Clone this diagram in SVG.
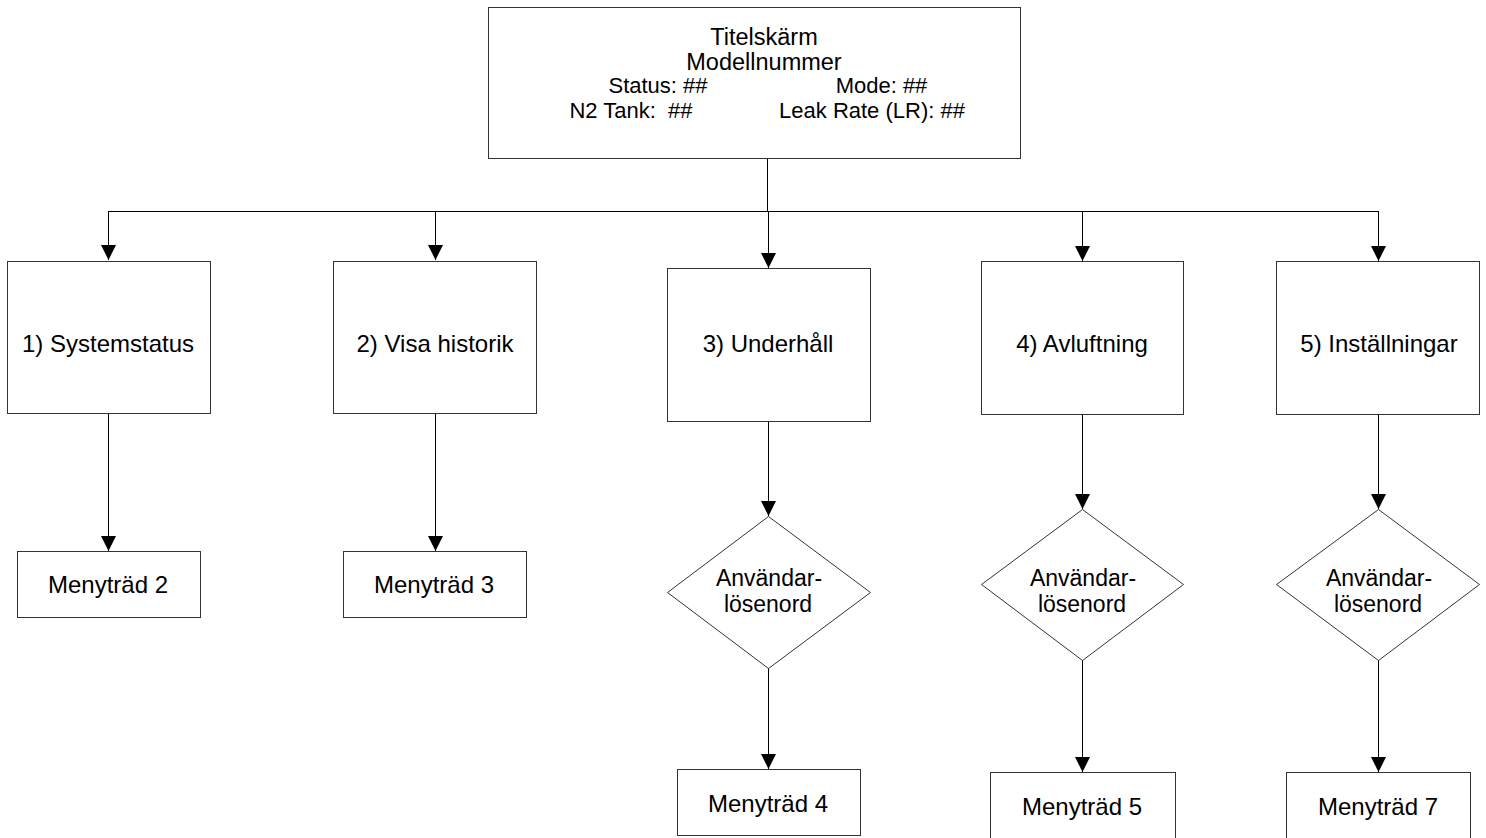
<svg xmlns="http://www.w3.org/2000/svg" width="1486" height="838" viewBox="0 0 1486 838">
<defs>
<style>
.box{fill:#fff;stroke:#333;stroke-width:1}
.t{font-family:"Liberation Sans",Arial,sans-serif;font-size:24px;fill:#000;text-anchor:middle}
.d{font-family:"Liberation Sans",Arial,sans-serif;font-size:23px;fill:#000;text-anchor:middle}
.h{font-family:"Liberation Sans",Arial,sans-serif;font-size:23.5px;fill:#000;text-anchor:middle}
.s{font-family:"Liberation Sans",Arial,sans-serif;font-size:22px;fill:#000;text-anchor:middle}
.c{fill:none;stroke:#000;stroke-width:1}
</style>
<marker id="ah" markerWidth="15" markerHeight="15" refX="15" refY="7.5" orient="auto" markerUnits="userSpaceOnUse">
<path d="M0,0 L15,7.5 L0,15 Z" fill="#000"/>
</marker>
</defs>
<rect width="1486" height="838" fill="#fff"/>
<g id="connectors">
<path class="c" d="M767.5,158 V211.5"/>
<path class="c" d="M108.5,211.5 H1378.5"/>
<path class="c" d="M108.5,211 V260" marker-end="url(#ah)"/>
<path class="c" d="M435.5,211 V260" marker-end="url(#ah)"/>
<path class="c" d="M768.5,211 V268" marker-end="url(#ah)"/>
<path class="c" d="M1082.5,211 V261" marker-end="url(#ah)"/>
<path class="c" d="M1378.5,211 V261" marker-end="url(#ah)"/>
<path class="c" d="M108.5,413 V551" marker-end="url(#ah)"/>
<path class="c" d="M435.5,413 V551" marker-end="url(#ah)"/>
<path class="c" d="M768.5,421 V516" marker-end="url(#ah)"/>
<path class="c" d="M768.5,668 V769" marker-end="url(#ah)"/>
<path class="c" d="M1082.5,414 V509" marker-end="url(#ah)"/>
<path class="c" d="M1082.5,660 V772" marker-end="url(#ah)"/>
<path class="c" d="M1378.5,414 V509" marker-end="url(#ah)"/>
<path class="c" d="M1378.5,660 V772" marker-end="url(#ah)"/>
</g>
<g id="title">
<rect class="box" x="488.5" y="7.5" width="532" height="151"/>
<text class="h" x="764" y="45">Titelskärm</text>
<text class="h" x="764" y="70">Modellnummer</text>
<text class="s" x="658" y="93">Status: ##</text>
<text class="s" x="881.5" y="93">Mode: ##</text>
<text class="s" x="631" y="118" xml:space="preserve">N2 Tank:  ##</text>
<text class="s" x="872" y="118">Leak Rate (LR): ##</text>
</g>
<g id="n1">
<rect class="box" x="7.5" y="261.5" width="203" height="152"/>
<text class="t" x="108" y="352">1) Systemstatus</text>
</g>
<g id="n2">
<rect class="box" x="333.5" y="261.5" width="203" height="152"/>
<text class="t" x="435" y="352">2) Visa historik</text>
</g>
<g id="n3">
<rect class="box" x="667.5" y="268.5" width="203" height="153"/>
<text class="t" x="768" y="352">3) Underhåll</text>
</g>
<g id="n4">
<rect class="box" x="981.5" y="261.5" width="202" height="153"/>
<text class="t" x="1082" y="352">4) Avluftning</text>
</g>
<g id="n5">
<rect class="box" x="1276.5" y="261.5" width="203" height="153"/>
<text class="t" x="1379" y="352">5) Inställningar</text>
</g>
<g id="m2">
<rect class="box" x="17.5" y="551.5" width="183" height="66"/>
<text class="t" x="108" y="593">Menyträd 2</text>
</g>
<g id="m3">
<rect class="box" x="343.5" y="551.5" width="183" height="66"/>
<text class="t" x="434" y="593">Menyträd 3</text>
</g>
<g id="d3">
<polygon class="box" points="768.5,516.5 870.5,592.5 768.5,668.5 667.5,592.5"/>
<text class="d" x="769" y="586">Användar-</text>
<text class="d" x="768" y="612">lösenord</text>
</g>
<g id="d4">
<polygon class="box" points="1082.5,509.5 1183.5,584.5 1082.5,660.5 981.5,584.5"/>
<text class="d" x="1083" y="586">Användar-</text>
<text class="d" x="1082" y="612">lösenord</text>
</g>
<g id="d5">
<polygon class="box" points="1378.5,509.5 1479.5,584.5 1378.5,660.5 1276.5,584.5"/>
<text class="d" x="1379" y="586">Användar-</text>
<text class="d" x="1378" y="612">lösenord</text>
</g>
<g id="m4">
<rect class="box" x="677.5" y="769.5" width="183" height="66"/>
<text class="t" x="768" y="812">Menyträd 4</text>
</g>
<g id="m5">
<rect class="box" x="990.5" y="772.5" width="185" height="70"/>
<text class="t" x="1082" y="815">Menyträd 5</text>
</g>
<g id="m7">
<rect class="box" x="1286.5" y="772.5" width="184" height="70"/>
<text class="t" x="1378" y="815">Menyträd 7</text>
</g>
</svg>
